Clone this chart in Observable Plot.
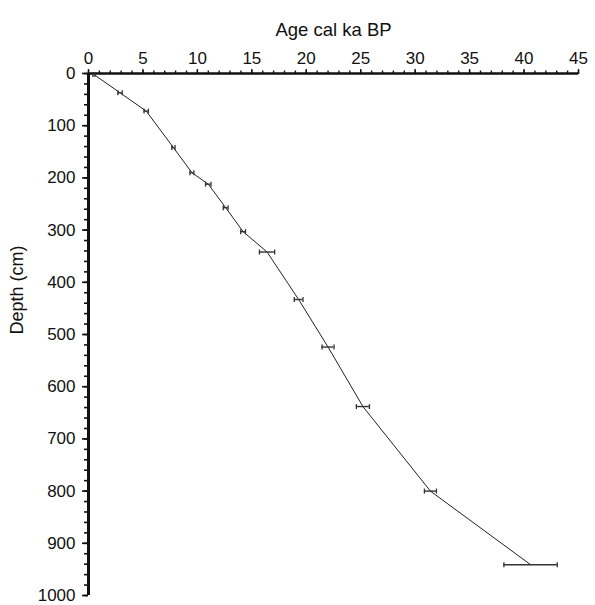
<!DOCTYPE html>
<html>
<head>
<meta charset="utf-8">
<script src="https://cdn.jsdelivr.net/npm/d3@7"></script>
<script src="https://cdn.jsdelivr.net/npm/@observablehq/plot@0.6"></script>
<style>
  html, body { margin: 0; padding: 0; background: #fff; }
  #chart svg { display: block; overflow: visible; }
</style>
</head>
<body>
<div id="chart"></div>
<script>
// Age (cal ka BP) at each dated depth
const ages = [0.5, 2.9, 5.3, 7.8, 9.5, 11.0, 12.6, 14.2, 16.4, 19.3, 22.0, 25.2, 31.4, 40.6];
// Depth (cm)
const depths = [2, 37, 72, 142, 190, 212, 257, 303, 342, 433, 524, 638, 800, 941];
// Age uncertainty (± ka)
const errors = [0.1, 0.2, 0.2, 0.15, 0.18, 0.25, 0.22, 0.22, 0.7, 0.4, 0.55, 0.6, 0.55, 2.45];

const xMajor = d3.range(0, 46, 5);
const xMinor = d3.range(0, 46, 1);
const yMajor = d3.range(0, 1001, 100);
const yMinor = d3.range(0, 1001, 20);

const data = ages.map((a, i) => ({age: a, depth: depths[i], lo: a - errors[i], hi: a + errors[i]}));

const vline = {
  draw(context, size) {
    const h = Math.sqrt(size / Math.PI);
    context.moveTo(0, -h);
    context.lineTo(0, h);
  }
};

const font = "'Liberation Sans', Arial, Helvetica, sans-serif";

const chart = Plot.plot({
  width: 595,
  height: 605,
  marginLeft: 88,
  marginRight: 17,
  marginTop: 73,
  marginBottom: 10,
  style: {fontFamily: font, fontSize: "17px", color: "#111", background: "#fff"},
  x: {domain: [0, 45], axis: null},
  y: {domain: [0, 1000], reverse: true, axis: null},
  marks: [
    Plot.axisX({anchor: "top", ticks: xMinor, tickSize: 3.5, text: null, label: null, strokeWidth: 1.4}),
    Plot.axisX({anchor: "top", ticks: xMajor, tickSize: 5, tickPadding: 5, label: null, fontSize: 17, tickFormat: d3.format("d"), strokeWidth: 1.4}),
    Plot.axisY({anchor: "left", ticks: yMinor, tickSize: 4, text: null, label: null, strokeWidth: 1.6}),
    Plot.axisY({anchor: "left", ticks: yMajor, tickSize: 6, tickPadding: 7, label: null, fontSize: 17, tickFormat: d3.format("d"), strokeWidth: 1.6}),
    Plot.ruleY([0], {stroke: "#111", strokeWidth: 2.4}),
    Plot.ruleX([0], {stroke: "#111", strokeWidth: 3}),
    Plot.line(data, {x: "age", y: "depth", stroke: "#222", strokeWidth: 1}),
    Plot.ruleY(data, {y: "depth", x1: "lo", x2: "hi", stroke: "#333", strokeWidth: 1.4}),
    Plot.dot(data, {x: "lo", y: "depth", symbol: vline, r: 2.5, stroke: "#333", strokeWidth: 1.3, fill: "none"}),
    Plot.dot(data, {x: "hi", y: "depth", symbol: vline, r: 2.5, stroke: "#333", strokeWidth: 1.3, fill: "none"}),
    Plot.text(["Age cal ka BP"], {frameAnchor: "top", dy: -51, text: d => d, fontSize: 18.5, fill: "#111"}),
    Plot.text(["Depth (cm)"], {frameAnchor: "left", dx: -71, rotate: -90, text: d => d, fontSize: 18, fill: "#111"})
  ]
});

document.getElementById("chart").appendChild(chart);
</script>
</body>
</html>
